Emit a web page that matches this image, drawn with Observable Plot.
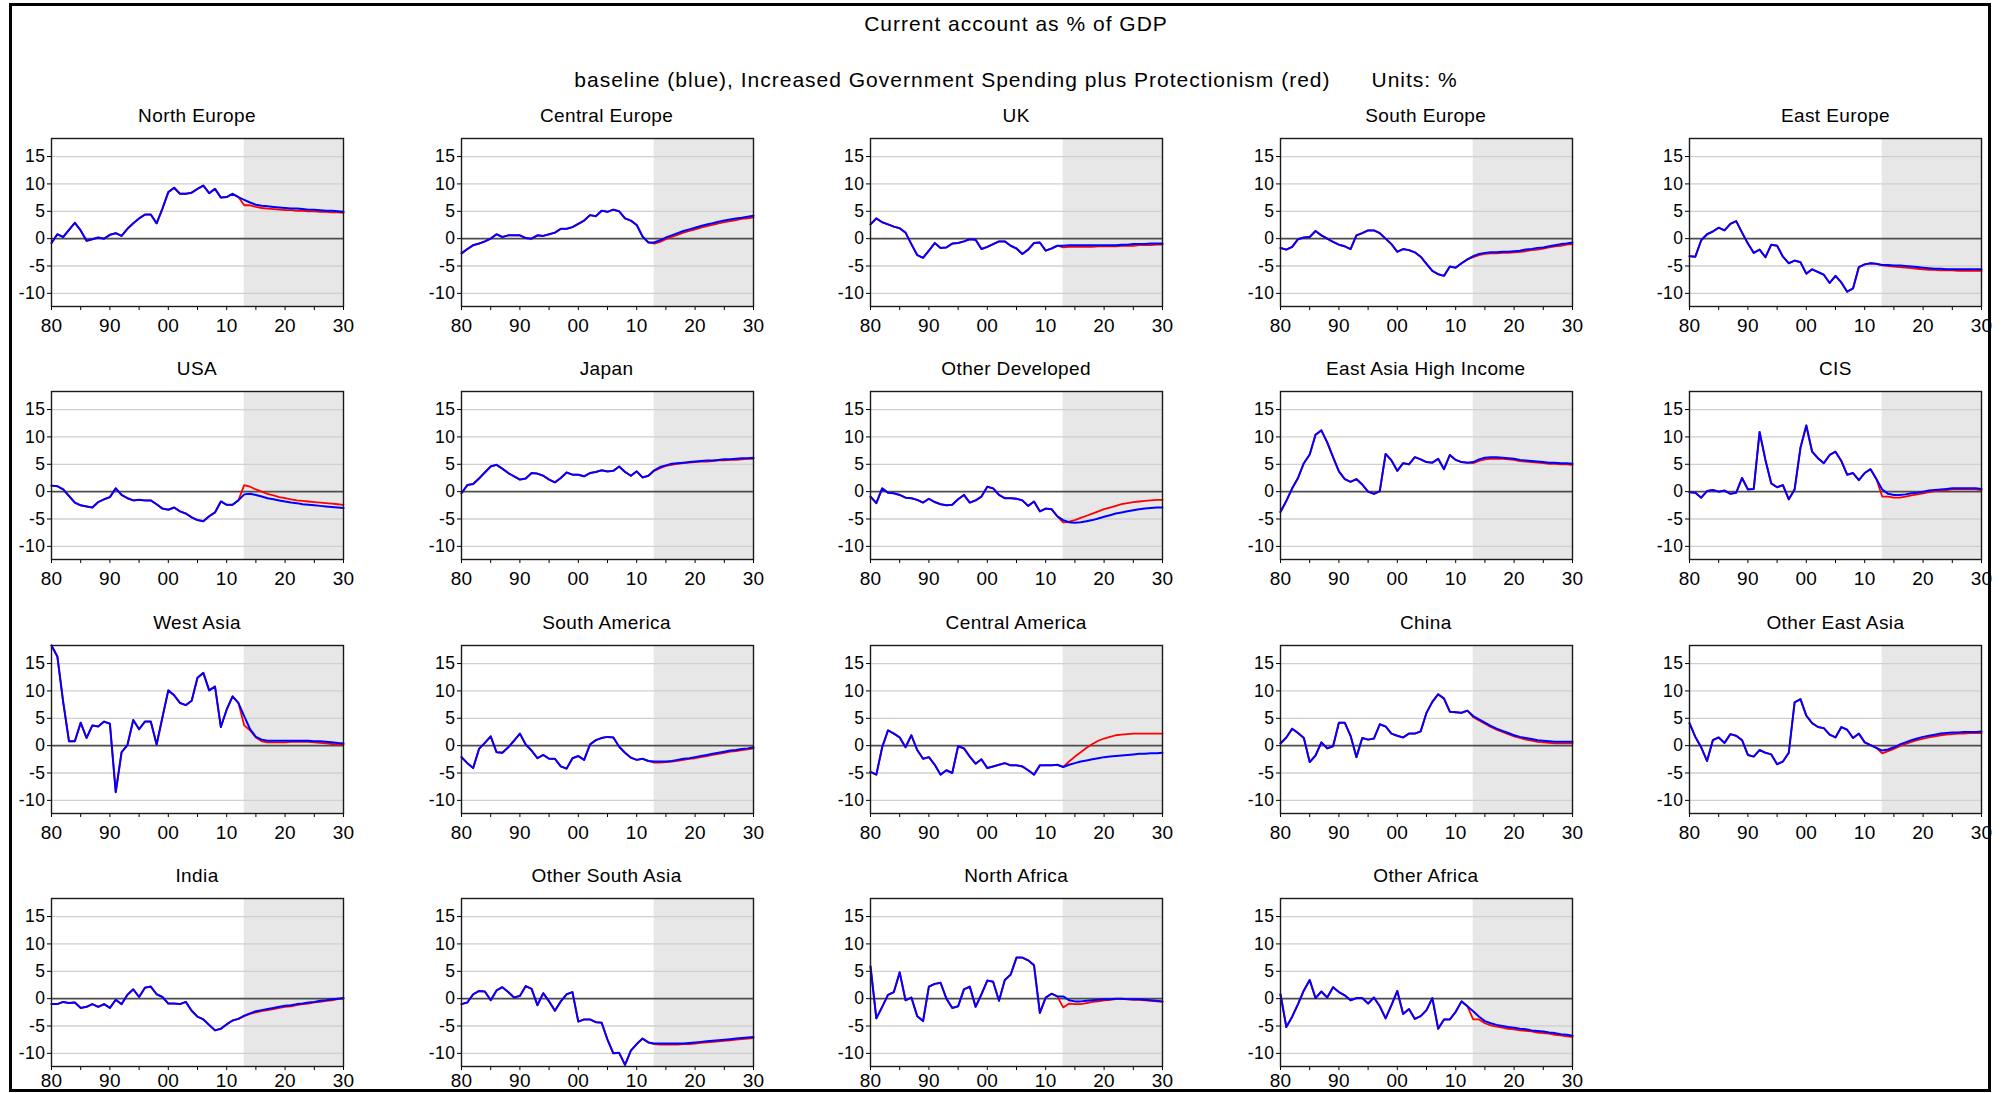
<!DOCTYPE html>
<html>
<head>
<meta charset="utf-8">
<script src="https://cdn.jsdelivr.net/npm/d3@7"></script>
<script src="https://cdn.jsdelivr.net/npm/@observablehq/plot@0.6"></script>
<style>
  html, body { margin: 0; padding: 0; background: #fff; }
  #page { position: relative; width: 2011px; height: 1093px; overflow: hidden; background: #fff;
          font-family: "Liberation Sans", Arial, sans-serif; color: #000; }
  .frame { position: absolute; left: 9px; top: 3px; width: 1982px; height: 1089px;
           box-sizing: border-box; border: 3px solid #000; pointer-events: none; z-index: 5; }
  .label { position: absolute; transform: translate(-50%, -50%); white-space: pre; line-height: 1; }
  .main-title { font-size: 21px; letter-spacing: 1px; }
  .panel-title { font-size: 19px; letter-spacing: 0.4px; }
  .panel { position: absolute; }
  .panel g[aria-label^="x-axis"] { font-size: 19px !important; letter-spacing: 0.3px; }
  .panel g[aria-label^="y-axis"] { font-size: 17.5px !important; letter-spacing: 0.5px; }
</style>
</head>
<body>
<div id="page"></div>
<script>
// Current account balance, % of GDP.
// History 1980-2012 is shared; projections 2013-2030 for the baseline (blue)
// and the government spending + protectionism scenario (red).
const firstYear = 1980;
const forecastStart = 2013;
const lastYear = 2030;

const northEuropeHist = [
  -0.8, 0.8, 0.3, 1.6, 2.9, 1.5, -0.4, -0.1, 0.2, 0.0,
  0.7, 1.0, 0.5, 1.8, 2.8, 3.7, 4.4, 4.4, 2.8, 5.5,
  8.5, 9.3, 8.2, 8.2, 8.4, 9.1, 9.7, 8.3, 9.1, 7.5,
  7.6, 8.2, 7.6];
const northEuropeBase = [7.1, 6.6, 6.2, 6.0, 5.9, 5.8, 5.7, 5.6, 5.5, 5.5, 5.4, 5.3, 5.3, 5.2, 5.1, 5.1, 5.0, 4.9];
const northEuropeAlt  = [6.1, 6.1, 5.8, 5.6, 5.5, 5.4, 5.3, 5.2, 5.2, 5.1, 5.1, 5.0, 5.0, 4.9, 4.9, 4.8, 4.8, 4.7];

const centralEuropeHist = [
  -2.7, -1.9, -1.2, -0.9, -0.5, 0.0, 0.8, 0.3, 0.6, 0.6,
  0.6, 0.1, 0.0, 0.6, 0.5, 0.8, 1.1, 1.8, 1.8, 2.1,
  2.7, 3.3, 4.3, 4.1, 5.1, 4.9, 5.3, 5.0, 3.7, 3.3,
  2.5, 0.4, -0.7];
const centralEuropeBase = [-0.7, -0.3, 0.2, 0.6, 1.0, 1.4, 1.7, 2.0, 2.3, 2.6, 2.8, 3.1, 3.3, 3.5, 3.7, 3.8, 4.0, 4.2];
const centralEuropeAlt  = [-0.9, -0.6, -0.1, 0.3, 0.7, 1.1, 1.4, 1.7, 2.0, 2.3, 2.5, 2.8, 3.0, 3.2, 3.4, 3.6, 3.7, 3.9];

const ukHist = [
  2.6, 3.7, 3.0, 2.6, 2.2, 1.9, 1.1, -1.0, -3.0, -3.5,
  -2.2, -0.8, -1.7, -1.6, -0.9, -0.8, -0.5, -0.1, -0.2, -1.9,
  -1.5, -1.0, -0.5, -0.5, -1.3, -1.8, -2.8, -2.0, -0.8, -0.7,
  -2.2, -1.8, -1.3];
const ukBase = [-1.3, -1.2, -1.2, -1.2, -1.2, -1.2, -1.2, -1.2, -1.2, -1.2, -1.1, -1.1, -1.0, -1.0, -1.0, -0.9, -0.9, -0.9];
const ukAlt  = [-1.6, -1.5, -1.5, -1.5, -1.5, -1.5, -1.4, -1.4, -1.4, -1.4, -1.3, -1.3, -1.3, -1.2, -1.2, -1.2, -1.1, -1.1];

const southEuropeHist = [
  -1.7, -2.0, -1.5, -0.1, 0.2, 0.3, 1.4, 0.6, 0.0, -0.6,
  -1.1, -1.4, -1.9, 0.6, 1.0, 1.5, 1.5, 1.0, 0.0, -1.0,
  -2.4, -1.9, -2.1, -2.5, -3.3, -4.6, -5.9, -6.5, -6.8, -5.1,
  -5.3, -4.5, -3.8];
const southEuropeBase = [-3.2, -2.8, -2.6, -2.5, -2.5, -2.4, -2.4, -2.3, -2.2, -2.0, -1.9, -1.7, -1.6, -1.4, -1.2, -1.0, -0.9, -0.7];
const southEuropeAlt  = [-3.4, -3.0, -2.8, -2.7, -2.7, -2.6, -2.6, -2.5, -2.4, -2.3, -2.1, -2.0, -1.8, -1.6, -1.4, -1.3, -1.1, -1.0];

const eastEuropeHist = [
  -3.2, -3.3, -0.3, 0.8, 1.3, 2.0, 1.5, 2.7, 3.2, 1.1,
  -0.9, -2.6, -2.0, -3.4, -1.1, -1.3, -3.3, -4.5, -4.0, -4.3,
  -6.4, -5.6, -6.1, -6.6, -8.1, -6.8, -8.0, -9.7, -9.1, -5.2,
  -4.7, -4.5, -4.6];
const eastEuropeBase = [-4.8, -4.8, -4.9, -4.9, -5.0, -5.1, -5.2, -5.3, -5.4, -5.5, -5.5, -5.6, -5.6, -5.6, -5.6, -5.6, -5.6, -5.6];
const eastEuropeAlt  = [-4.9, -5.0, -5.1, -5.2, -5.3, -5.4, -5.5, -5.6, -5.7, -5.7, -5.8, -5.8, -5.8, -5.9, -5.9, -5.9, -5.9, -5.9];

const usaHist = [
  1.1, 1.0, 0.4, -0.8, -2.0, -2.5, -2.7, -2.9, -1.9, -1.4,
  -1.0, 0.6, -0.6, -1.2, -1.6, -1.5, -1.6, -1.6, -2.3, -3.1,
  -3.3, -2.9, -3.6, -4.0, -4.7, -5.2, -5.4, -4.5, -3.8, -1.8,
  -2.4, -2.4, -1.6];
const usaBase = [-0.5, -0.4, -0.6, -0.9, -1.2, -1.4, -1.6, -1.8, -2.0, -2.1, -2.3, -2.4, -2.5, -2.6, -2.7, -2.8, -2.9, -3.0];
const usaAlt  = [1.2, 0.9, 0.4, 0.0, -0.4, -0.7, -1.0, -1.2, -1.4, -1.6, -1.7, -1.8, -1.9, -2.0, -2.1, -2.2, -2.3, -2.4];

const japanHist = [
  -0.3, 1.2, 1.4, 2.4, 3.5, 4.6, 4.9, 4.2, 3.4, 2.8,
  2.2, 2.4, 3.4, 3.3, 2.9, 2.2, 1.7, 2.5, 3.5, 3.1,
  3.1, 2.8, 3.4, 3.6, 3.9, 3.7, 3.8, 4.6, 3.6, 2.9,
  3.7, 2.6, 2.9];
const japanBase = [3.9, 4.5, 4.8, 5.1, 5.2, 5.3, 5.4, 5.5, 5.6, 5.7, 5.7, 5.8, 5.9, 5.9, 6.0, 6.1, 6.1, 6.2];
const japanAlt  = [3.8, 4.3, 4.7, 4.9, 5.1, 5.2, 5.3, 5.4, 5.5, 5.5, 5.6, 5.7, 5.7, 5.8, 5.8, 5.9, 6.0, 6.0];

const otherDevelopedHist = [
  -0.9, -2.1, 0.6, -0.2, -0.3, -0.6, -1.1, -1.2, -1.5, -2.0,
  -1.3, -1.9, -2.3, -2.5, -2.4, -1.4, -0.6, -2.0, -1.6, -0.9,
  0.9, 0.6, -0.6, -1.2, -1.2, -1.3, -1.6, -2.6, -1.8, -3.6,
  -3.1, -3.2, -4.5];
const otherDevelopedBase = [-5.2, -5.6, -5.7, -5.6, -5.4, -5.2, -4.9, -4.6, -4.3, -4.0, -3.8, -3.6, -3.4, -3.2, -3.1, -3.0, -2.9, -2.9];
const otherDevelopedAlt  = [-5.6, -5.5, -5.2, -4.8, -4.4, -4.0, -3.6, -3.2, -2.9, -2.6, -2.3, -2.1, -1.9, -1.8, -1.7, -1.6, -1.5, -1.5];

const eastAsiaHighHist = [
  -3.7, -1.7, 0.6, 2.5, 5.2, 6.8, 10.4, 11.2, 9.0, 6.3,
  3.7, 2.3, 1.8, 2.3, 1.3, 0.0, -0.4, 0.1, 6.9, 5.7,
  3.8, 5.2, 5.0, 6.3, 5.9, 5.4, 5.3, 6.0, 4.1, 6.7,
  5.8, 5.4, 5.3];
const eastAsiaHighBase = [5.4, 5.9, 6.2, 6.3, 6.3, 6.2, 6.1, 6.0, 5.8, 5.7, 5.6, 5.5, 5.4, 5.3, 5.3, 5.2, 5.2, 5.1];
const eastAsiaHighAlt  = [5.2, 5.6, 5.9, 6.0, 6.0, 6.0, 5.9, 5.8, 5.6, 5.5, 5.4, 5.3, 5.2, 5.1, 5.1, 5.0, 5.0, 4.9];

const cisHist = [
  -0.1, -0.2, -1.1, 0.1, 0.3, 0.0, 0.2, -0.4, -0.2, 2.5,
  0.4, 0.5, 10.9, 5.8, 1.5, 0.8, 1.2, -1.4, 0.4, 8.0,
  12.1, 7.3, 6.1, 5.2, 6.7, 7.3, 5.6, 3.1, 3.4, 2.1,
  3.4, 4.1, 2.3];
const cisBase = [0.4, -0.4, -0.6, -0.6, -0.5, -0.3, -0.2, 0.0, 0.2, 0.3, 0.4, 0.5, 0.6, 0.6, 0.6, 0.6, 0.6, 0.5];
const cisAlt  = [-0.9, -0.9, -1.1, -1.1, -0.9, -0.7, -0.5, -0.3, -0.1, 0.1, 0.2, 0.3, 0.4, 0.4, 0.4, 0.4, 0.4, 0.3];

const westAsiaHist = [
  18.3, 16.3, 8.0, 0.8, 0.8, 4.2, 1.4, 3.7, 3.5, 4.4,
  4.0, -8.5, -1.2, 0.1, 4.7, 3.0, 4.4, 4.4, 0.2, 5.2,
  10.1, 9.2, 7.8, 7.4, 8.2, 12.4, 13.3, 10.1, 10.8, 3.4,
  6.6, 9.0, 7.8];
const westAsiaBase = [5.4, 3.0, 1.6, 1.1, 0.9, 0.9, 0.9, 0.9, 0.9, 0.9, 0.9, 0.9, 0.8, 0.8, 0.7, 0.6, 0.5, 0.4];
const westAsiaAlt  = [3.7, 2.8, 1.5, 0.8, 0.6, 0.6, 0.6, 0.6, 0.7, 0.7, 0.7, 0.7, 0.6, 0.5, 0.4, 0.3, 0.2, 0.2];

const southAmericaHist = [
  -2.1, -3.2, -4.1, -0.6, 0.5, 1.7, -1.2, -1.3, -0.3, 0.9,
  2.2, 0.2, -0.9, -2.3, -1.7, -2.4, -2.4, -3.8, -4.2, -2.3,
  -1.9, -2.6, 0.2, 1.0, 1.4, 1.6, 1.5, -0.2, -1.3, -2.2,
  -2.6, -2.4, -2.8];
const southAmericaBase = [-2.9, -2.9, -2.9, -2.8, -2.6, -2.4, -2.3, -2.1, -1.9, -1.7, -1.5, -1.3, -1.1, -0.9, -0.8, -0.6, -0.5, -0.3];
const southAmericaAlt  = [-3.1, -3.1, -3.0, -2.9, -2.8, -2.6, -2.4, -2.3, -2.1, -1.9, -1.7, -1.5, -1.3, -1.1, -1.0, -0.8, -0.7, -0.5];

const centralAmericaHist = [
  -4.8, -5.3, -0.3, 2.8, 2.2, 1.5, -0.3, 1.9, -0.8, -2.4,
  -2.1, -3.5, -5.3, -4.5, -5.0, -0.1, -0.5, -2.0, -3.3, -2.5,
  -4.1, -3.8, -3.5, -3.2, -3.6, -3.6, -3.8, -4.5, -5.3, -3.6,
  -3.6, -3.6, -3.5];
const centralAmericaBase = [-3.9, -3.5, -3.2, -2.9, -2.7, -2.5, -2.3, -2.1, -2.0, -1.9, -1.8, -1.7, -1.6, -1.5, -1.5, -1.4, -1.4, -1.3];
const centralAmericaAlt  = [-3.9, -2.9, -2.0, -1.2, -0.4, 0.3, 0.9, 1.3, 1.6, 1.9, 2.0, 2.1, 2.2, 2.2, 2.2, 2.2, 2.2, 2.2];

const chinaHist = [
  0.4, 1.5, 3.1, 2.3, 1.4, -3.0, -1.8, 0.6, -0.5, -0.1,
  4.2, 4.2, 1.8, -2.1, 1.4, 1.1, 1.3, 3.9, 3.5, 2.2,
  1.8, 1.5, 2.2, 2.2, 2.6, 6.0, 8.0, 9.4, 8.6, 6.2,
  6.1, 6.0, 6.4];
const chinaBase = [5.4, 4.8, 4.2, 3.6, 3.1, 2.7, 2.3, 1.9, 1.6, 1.4, 1.2, 1.0, 0.9, 0.8, 0.7, 0.7, 0.7, 0.7];
const chinaAlt  = [5.2, 4.6, 4.0, 3.4, 2.9, 2.5, 2.1, 1.7, 1.4, 1.1, 0.9, 0.7, 0.6, 0.5, 0.4, 0.4, 0.4, 0.4];

const otherEastAsiaHist = [
  4.1, 1.6, -0.3, -2.8, 1.0, 1.5, 0.5, 2.1, 1.8, 1.0,
  -1.7, -2.0, -0.8, -1.3, -1.6, -3.4, -2.9, -1.3, 7.9, 8.5,
  5.5, 4.1, 3.4, 3.2, 2.0, 1.5, 3.4, 2.9, 1.4, 2.2,
  0.6, 0.1, -0.4];
const otherEastAsiaBase = [-0.9, -0.7, -0.3, 0.2, 0.6, 1.0, 1.3, 1.6, 1.8, 2.0, 2.2, 2.3, 2.4, 2.4, 2.5, 2.5, 2.5, 2.6];
const otherEastAsiaAlt  = [-1.4, -1.0, -0.6, -0.1, 0.3, 0.7, 1.0, 1.3, 1.5, 1.7, 1.9, 2.0, 2.1, 2.2, 2.2, 2.3, 2.3, 2.3];

const indiaHist = [
  -1.0, -1.0, -0.6, -0.8, -0.7, -1.7, -1.5, -1.0, -1.5, -1.0,
  -1.7, -0.2, -1.0, 0.7, 1.7, 0.3, 2.0, 2.2, 0.8, 0.3,
  -0.9, -0.9, -1.0, -0.6, -2.2, -3.3, -3.8, -4.8, -5.8, -5.5,
  -4.7, -4.0, -3.7];
const indiaBase = [-3.1, -2.7, -2.3, -2.1, -1.9, -1.7, -1.5, -1.3, -1.2, -1.0, -0.9, -0.7, -0.6, -0.4, -0.3, -0.1, 0.0, 0.1];
const indiaAlt  = [-3.2, -2.8, -2.5, -2.3, -2.1, -1.9, -1.7, -1.5, -1.4, -1.2, -1.0, -0.9, -0.7, -0.6, -0.4, -0.3, -0.1, 0.0];

const otherSouthAsiaHist = [
  -1.0, -0.7, 0.8, 1.4, 1.3, -0.3, 1.5, 2.1, 1.2, 0.2,
  0.5, 2.3, 1.8, -1.2, 1.0, -0.5, -2.2, -0.5, 0.8, 1.2,
  -4.2, -3.8, -3.8, -4.3, -4.4, -7.5, -10.0, -9.9, -12.1, -9.5,
  -8.3, -7.3, -8.0];
const otherSouthAsiaBase = [-8.2, -8.2, -8.2, -8.2, -8.2, -8.2, -8.1, -8.0, -7.9, -7.8, -7.7, -7.6, -7.5, -7.4, -7.3, -7.2, -7.1, -7.0];
const otherSouthAsiaAlt  = [-8.3, -8.4, -8.4, -8.4, -8.4, -8.3, -8.3, -8.2, -8.1, -8.0, -7.9, -7.8, -7.7, -7.6, -7.5, -7.4, -7.3, -7.2];

const northAfricaHist = [
  5.9, -3.6, -1.5, 0.7, 1.2, 4.8, -0.3, 0.2, -3.2, -4.1,
  2.2, 2.7, 2.9, 0.0, -1.7, -1.4, 1.7, 2.2, -1.5, 0.8,
  3.3, 3.1, -0.4, 3.4, 4.4, 7.5, 7.5, 7.0, 6.1, -2.6,
  0.2, 0.9, 0.4];
const northAfricaBase = [0.4, -0.3, -0.5, -0.5, -0.4, -0.3, -0.2, -0.1, -0.1, 0.0, 0.0, -0.1, -0.1, -0.1, -0.2, -0.3, -0.4, -0.5];
const northAfricaAlt  = [-1.6, -0.9, -1.0, -1.0, -0.8, -0.6, -0.5, -0.3, -0.2, -0.1, -0.1, -0.1, -0.2, -0.2, -0.3, -0.4, -0.5, -0.6];

const otherAfricaHist = [
  0.8, -5.2, -3.3, -1.0, 1.5, 3.4, 0.1, 1.3, 0.2, 2.1,
  1.2, 0.6, -0.3, 0.1, 0.1, -0.9, 0.2, -1.4, -3.6, -1.2,
  1.4, -2.8, -1.9, -3.7, -3.2, -2.1, 0.1, -5.5, -3.8, -3.8,
  -2.4, -0.5, -1.4];
const otherAfricaBase = [-2.3, -3.3, -4.1, -4.5, -4.8, -5.0, -5.2, -5.3, -5.5, -5.6, -5.8, -5.9, -6.0, -6.2, -6.3, -6.5, -6.6, -6.8];
const otherAfricaAlt  = [-3.8, -3.8, -4.5, -4.9, -5.1, -5.3, -5.5, -5.6, -5.8, -5.9, -6.0, -6.2, -6.3, -6.4, -6.6, -6.7, -6.9, -7.0];

// Panel order, left to right, top to bottom.
const regions = [
  ["North Europe", northEuropeHist, northEuropeBase, northEuropeAlt],
  ["Central Europe", centralEuropeHist, centralEuropeBase, centralEuropeAlt],
  ["UK", ukHist, ukBase, ukAlt],
  ["South Europe", southEuropeHist, southEuropeBase, southEuropeAlt],
  ["East Europe", eastEuropeHist, eastEuropeBase, eastEuropeAlt],
  ["USA", usaHist, usaBase, usaAlt],
  ["Japan", japanHist, japanBase, japanAlt],
  ["Other Developed", otherDevelopedHist, otherDevelopedBase, otherDevelopedAlt],
  ["East Asia High Income", eastAsiaHighHist, eastAsiaHighBase, eastAsiaHighAlt],
  ["CIS", cisHist, cisBase, cisAlt],
  ["West Asia", westAsiaHist, westAsiaBase, westAsiaAlt],
  ["South America", southAmericaHist, southAmericaBase, southAmericaAlt],
  ["Central America", centralAmericaHist, centralAmericaBase, centralAmericaAlt],
  ["China", chinaHist, chinaBase, chinaAlt],
  ["Other East Asia", otherEastAsiaHist, otherEastAsiaBase, otherEastAsiaAlt],
  ["India", indiaHist, indiaBase, indiaAlt],
  ["Other South Asia", otherSouthAsiaHist, otherSouthAsiaBase, otherSouthAsiaAlt],
  ["North Africa", northAfricaHist, northAfricaBase, northAfricaAlt],
  ["Other Africa", otherAfricaHist, otherAfricaBase, otherAfricaAlt]
];

const yTicks = [-10, -5, 0, 5, 10, 15];
const xTicks = [1980, 1985, 1990, 1995, 2000, 2005, 2010, 2015, 2020, 2025, 2030];

const titleText = "Current account as % of GDP";
const subtitleText = "baseline (blue), Increased Government Spending plus Protectionism (red)      Units: %";

// ---- layout ----
const COLS = 5;
const ROWS = Math.ceil(regions.length / COLS);
const BOX_W = 292, BOX_H = 168;
const BOX_X0 = 51, BOX_DX = 409.6;
const BOX_Y0 = 138.3, BOX_DY = 253.1;
const M = {left: 45, right: 8, top: 4, bottom: 38};
const Y_DOMAIN = [-12.4, 18.3];

const page = document.getElementById("page");

function addLabel(text, cls, cx, cy) {
  const el = document.createElement("div");
  el.className = "label " + cls;
  el.textContent = text;
  el.style.left = cx + "px";
  el.style.top = cy + "px";
  page.appendChild(el);
}

addLabel(titleText, "main-title", 1016, 23);
addLabel(subtitleText, "main-title", 1016, 79);

function series(hist, proj) {
  const hs = hist.map((v, i) => ({year: firstYear + i, value: v}));
  const ps = proj.map((v, i) => ({year: forecastStart + i, value: v}));
  return hs.concat(ps);
}

regions.forEach(([name, hist, base, alt], i) => {
  const col = i % COLS, row = Math.floor(i / COLS);
  const boxLeft = BOX_X0 + col * BOX_DX;
  const boxTop = BOX_Y0 + row * BOX_DY;
  // the last row sits right on the outer frame, so its year labels tuck in closer
  const xPad = row === ROWS - 1 ? 3 : 8;

  const blue = series(hist, base);
  const red = series(hist, alt);
  const shade = [{start: forecastStart, end: lastYear, lo: Y_DOMAIN[0], hi: Y_DOMAIN[1]}];

  const chart = Plot.plot({
    width: M.left + BOX_W + M.right,
    height: M.top + BOX_H + M.bottom,
    marginLeft: M.left, marginRight: M.right, marginTop: M.top, marginBottom: M.bottom,
    style: {background: "transparent", fontFamily: "'Liberation Sans', Arial, sans-serif", fontSize: "17px", color: "#000", overflow: "visible"},
    x: {domain: [firstYear, lastYear], ticks: xTicks, tickSize: 4, tickPadding: xPad, label: null,
        tickFormat: d => d % 10 === 0 ? String(d % 100).padStart(2, "0") : ""},
    y: {domain: Y_DOMAIN, ticks: yTicks, tickSize: 4, tickPadding: 2, label: null,
        tickFormat: d => String(d)},
    marks: [
      Plot.rect(shade, {x1: "start", x2: "end", y1: "lo", y2: "hi", fill: "#e7e7e7"}),
      Plot.ruleY(yTicks.filter(d => d !== 0), {stroke: "#d0d0d0", strokeWidth: 1.3}),
      Plot.ruleY([0], {stroke: "#4d4d4d", strokeWidth: 1.6}),
      Plot.line(red, {x: "year", y: "value", stroke: "#ff0000", strokeWidth: 1.8}),
      Plot.line(blue, {x: "year", y: "value", stroke: "#0000ff", strokeWidth: 2}),
      Plot.frame({stroke: "#1a1a1a", strokeWidth: 1.4})
    ]
  });

  const holder = document.createElement("div");
  holder.className = "panel";
  holder.style.left = (boxLeft - M.left) + "px";
  holder.style.top = (boxTop - M.top) + "px";
  holder.appendChild(chart);
  page.appendChild(holder);

  addLabel(name, "panel-title", boxLeft + BOX_W / 2, boxTop - 23);
});

const frame = document.createElement("div");
frame.className = "frame";
page.appendChild(frame);
</script>
</body>
</html>
